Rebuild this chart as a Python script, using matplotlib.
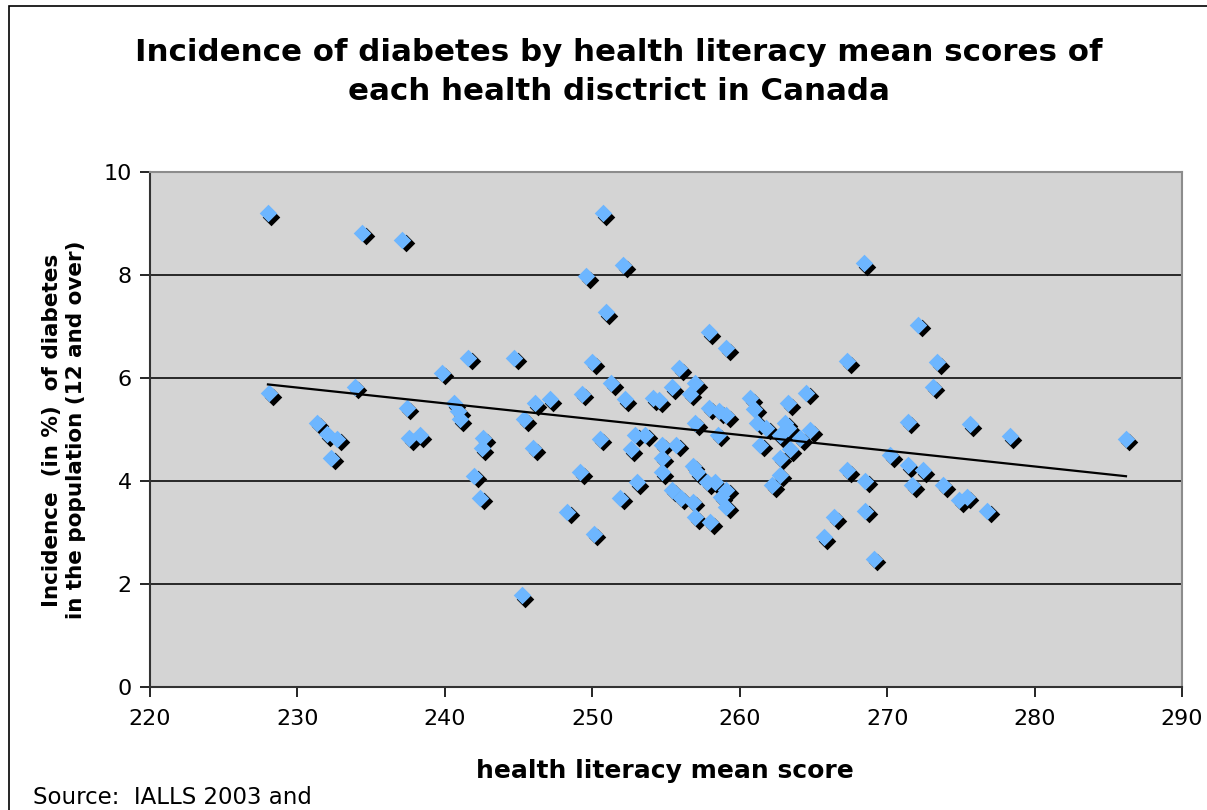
import numpy as np
import matplotlib
matplotlib.use("Agg")
import matplotlib.pyplot as plt
import matplotlib.transforms as mtransforms
from matplotlib.patches import Rectangle

# health literacy mean score of each health district
score = [
    228.0, 228.1, 231.3, 232.0, 232.3, 232.7, 233.9, 234.4, 237.1, 237.4,
    237.6, 238.3, 239.8, 240.6, 240.9, 241.0, 241.6, 242.0, 242.4, 242.5,
    242.6, 244.7, 245.2, 245.4, 246.0, 246.1, 247.1, 248.3, 249.2, 249.3,
    249.6, 250.0, 250.1, 250.5, 250.7, 250.9, 251.3, 251.9, 252.1, 252.2,
    252.6, 252.9, 253.0, 253.6, 254.1, 254.5, 254.7, 254.7, 254.7, 255.4,
    255.4, 255.7, 255.9, 256.0, 256.6, 256.8, 256.8, 257.0, 257.0, 257.0,
    257.1, 257.8, 257.9, 257.9, 258.0, 258.3, 258.5, 258.6, 258.7, 259.1,
    259.1, 259.1, 259.1, 260.7, 261.0, 261.2, 261.4, 261.8, 262.2, 262.7,
    262.7, 262.7, 263.1, 263.3, 263.3, 263.4, 264.1, 264.5, 264.8, 265.7,
    266.4, 267.3, 267.3, 268.4, 268.5, 268.5, 269.1, 270.2, 271.4, 271.4,
    271.7, 272.1, 272.4, 273.1, 273.4, 273.8, 274.9, 275.4, 275.6, 276.8,
    278.3, 286.2,
]
# incidence of diabetes (%) in the population 12 and over
incidence = [
    9.20, 5.70, 5.13, 4.91, 4.45, 4.82, 5.83, 8.82, 8.68, 5.42,
    4.83, 4.89, 6.10, 5.51, 5.35, 5.20, 6.39, 4.10, 3.67, 4.64,
    4.83, 6.39, 1.78, 5.20, 4.64, 5.51, 5.59, 3.40, 4.17, 5.69,
    7.98, 6.31, 2.98, 4.82, 9.20, 7.28, 5.90, 3.67, 8.19, 5.59,
    4.62, 4.90, 3.98, 4.90, 5.61, 5.57, 4.70, 4.45, 4.17, 5.82,
    3.83, 4.70, 6.19, 3.67, 5.69, 4.30, 3.60, 5.90, 5.12, 3.30,
    4.17, 3.98, 6.89, 5.42, 3.20, 3.98, 4.90, 5.35, 3.69, 5.28,
    6.58, 3.83, 3.50, 5.61, 5.40, 5.13, 4.70, 5.03, 3.92, 4.89,
    4.45, 4.12, 5.13, 5.51, 5.03, 4.62, 4.83, 5.71, 4.99, 2.91,
    3.30, 6.33, 4.21, 8.23, 4.00, 3.42, 2.49, 4.50, 5.15, 4.31,
    3.92, 7.03, 4.21, 5.83, 6.31, 3.92, 3.63, 3.69, 5.10, 3.42,
    4.87, 4.82,
]

x_ticks = [220, 230, 240, 250, 260, 270, 280, 290]
y_ticks = [0, 2, 4, 6, 8, 10]

title = ("Incidence of diabetes by health literacy mean scores of\n"
         "each health disctrict in Canada")
ylabel = "Incidence  (in %)  of diabetes\nin the population (12 and over)"
xlabel = "health literacy mean score"
source = "Source:  IALLS 2003 and"

x = np.array(score)
y = np.array(incidence)

plt.rcParams["font.family"] = ["DejaVu Sans"]

fig = plt.figure(figsize=(12.07, 8.10), dpi=100)
fig.patch.set_facecolor("white")
fig.patches.append(Rectangle((9 / 1207, -0.01), 1.2, 1 - 6 / 810 + 0.01,
                             transform=fig.transFigure, fill=False,
                             edgecolor="black", linewidth=1.2))

ax = fig.add_axes([150 / 1207, 1 - 687 / 810, 1032 / 1207, 515 / 810])
ax.set_facecolor("#D4D4D4")
ax.set_xlim(220, 290)
ax.set_ylim(0, 10)
ax.set_xticks(x_ticks)
ax.set_yticks(y_ticks)
ax.tick_params(axis="both", direction="out", length=7, width=1.2,
               labelsize=16, colors="black", pad=6)
ax.tick_params(axis="x", pad=9)

for v in y_ticks[1:-1]:
    ax.axhline(v, color="#1a1a1a", linewidth=1.3, zorder=1)

for side in ["top", "right"]:
    ax.spines[side].set_color("#8c8c8c")
    ax.spines[side].set_linewidth(1.5)
for side in ["left", "bottom"]:
    ax.spines[side].set_color("#333333")
    ax.spines[side].set_linewidth(1.5)

# markers with an Excel-like drop shadow
shadow = mtransforms.offset_copy(ax.transData, fig=fig, x=3.5, y=-3.5, units="dots")
ax.scatter(x, y, marker="D", s=80, color="black", linewidths=0,
           transform=shadow, zorder=3)
ax.scatter(x, y, marker="D", s=80, color="#6DB6FF", linewidths=0, zorder=4)

# linear trend line
slope, intercept = np.polyfit(x, y, 1)
tx = np.array([x.min(), x.max()])
ax.plot(tx, slope * tx + intercept, color="black", linewidth=1.6, zorder=5)

fig.text(619 / 1207, 1 - 72 / 810, title, ha="center", va="center",
         fontsize=22.2, fontweight="bold", linespacing=1.4)
fig.text(64 / 1207, 1 - 430 / 810, ylabel, ha="center", va="center",
         rotation=90, fontsize=15.5, fontweight="bold", linespacing=1.2)
fig.text(665 / 1207, 1 - 771 / 810, xlabel, ha="center", va="center",
         fontsize=18, fontweight="bold")
fig.text(33 / 1207, 1 - 797 / 810, source, ha="left", va="center",
         fontsize=16.5)

fig.savefig("out.png", dpi=100)
